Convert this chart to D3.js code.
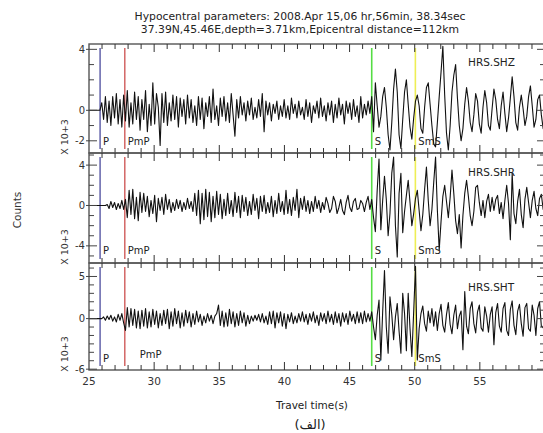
<!DOCTYPE html>
<html>
<head>
<meta charset="utf-8">
<script src="https://cdn.jsdelivr.net/npm/d3@7"></script>
<style>
    body { margin: 0; background: #fff; }
    text { font-family: "DejaVu Sans", sans-serif; }
</style>
</head>
<body>
<div id="chart"></div>
<script>
// seismogram samples (x 10^3 counts), first sample at startTime, one every sampleStep seconds
var startTime = 25;
var sampleStep = 0.14;

var shzCounts = [
    0,0,0,0,0,0,0,0.5,-0.6,0.9,
    -0.8,0.6,-1.0,0.9,-0.5,1.1,-0.9,0.7,-1.1,1.0,
    -0.7,1.3,-1.1,0.5,-0.9,1.2,-0.6,0.9,-1.3,0.7,
    -0.6,1.3,-1.4,0.4,-1.0,1.8,-0.9,1.1,0.2,-2.3,
    1.1,-0.8,1.2,-1.0,0.5,-0.7,1.0,-0.6,0.9,-1.1,
    0.8,-0.4,0.7,-0.9,1.0,-0.5,0.7,-0.8,0.3,-1.0,
    0.9,-0.6,0.8,-1.2,0.5,-0.4,0.9,-0.8,1.4,-0.6,
    0.3,-1.0,0.8,-0.4,0.9,-0.7,0.5,-0.8,1.1,-0.3,
    -1.7,0.7,-0.5,0.9,-0.3,0.5,-0.7,0.6,-0.3,0.8,
    -0.6,0.2,-0.5,0.7,-0.4,1.1,-1.4,0.6,-0.3,0.5,
    -0.7,0.4,-0.2,0.6,-0.6,0.3,-0.4,0.7,-0.5,0.3,
    -0.6,0.8,-0.2,0.4,-0.5,0.6,-0.3,0.2,-0.6,0.7,
    -0.4,0.5,-0.8,0.3,-0.2,0.6,-0.5,0.8,-0.4,0.3,
    -0.7,0.5,-0.3,0.6,-0.8,0.4,-0.5,0.8,-0.3,0.4,
    -0.9,0.6,-0.2,0.5,-0.6,0.7,-0.4,0.3,-0.8,0.9,
    -0.5,0.4,-0.3,0.6,-0.2,0.9,-1.4,1.8,0.3,-1.1,
    -0.4,0.9,1.5,0.2,-1.6,-2.6,-0.8,1.4,2.7,1.2,
    -1.6,-2.5,-0.6,1.2,2.0,0.4,-1.1,-1.9,-0.5,0.6,
    1.0,0.3,-1.2,-1.5,0.2,1.5,1.8,0.4,-1.0,-2.2,
    -2.4,-0.8,0.9,2.5,4.2,1.0,-1.5,-2.6,-1.0,1.2,
    2.3,3.0,0.8,-1.0,-2.0,-1.2,0.4,1.5,0.6,-0.8,
    -1.4,-0.3,1.1,0.6,-0.9,-1.5,0.2,1.3,0.5,-1.0,
    -1.3,0.1,1.4,0.7,-0.6,-1.2,0.3,1.2,-0.2,-1.4,
    -0.5,0.8,2.2,0.9,-0.8,-1.3,0.2,1.0,0.1,-1.0,
    -0.4,0.9,1.6,0.3,-1.1,-0.6,0.7,1.0,-0.3,-1.2,
    -0.2
];

var shrCounts = [
    0,0,0,0,0,0,0,0,0,0,
    0.1,-0.3,0.4,-0.2,0.3,-0.4,0.2,-0.3,0.5,-0.4,
    0.6,-1.2,1.5,-0.9,1.6,-1.3,0.8,-1.5,1.3,-0.7,
    1.2,-0.6,0.9,-1.1,0.5,-0.8,1.0,-1.6,0.7,-0.5,
    0.8,-0.9,1.1,-0.4,0.6,-0.7,0.3,-0.5,0.6,-0.3,
    0.5,-0.6,0.3,-0.4,0.7,-0.3,0.4,-0.6,1.2,-1.0,
    1.5,-1.8,1.2,-1.4,1.6,-1.1,1.3,-1.6,0.9,-1.2,
    1.4,-0.9,1.1,-1.3,0.6,-1.0,1.2,-0.8,0.5,-1.1,
    1.3,-0.7,0.9,-1.2,1.0,-0.6,0.8,-1.0,0.4,-0.9,
    1.1,-0.5,0.7,-1.3,0.9,-0.6,1.0,-0.8,0.3,-0.7,
    0.9,-1.1,0.5,-0.8,1.2,-0.6,0.4,-0.9,1.5,-0.8,
    0.6,-1.0,0.8,-0.5,1.6,-1.2,0.7,-0.4,0.9,-0.6,
    0.5,-0.8,0.4,-0.6,0.9,-0.3,0.5,-0.7,0.3,-0.4,
    0.8,0.2,-0.7,-0.3,0.9,0.4,-0.8,-0.2,0.6,-0.5,
    -0.9,0.3,1.0,-0.2,-0.6,0.4,0.7,-0.4,-0.3,0.5,
    0.2,-0.6,0.3,0.9,-0.4,0.6,-1.2,-2.6,1.5,4.6,
    -2.4,0.5,2.9,0.6,-3.0,-0.8,3.2,4.8,-2.0,-5.1,
    1.2,3.2,-2.7,-0.6,1.0,2.5,0.3,-2.0,-0.8,0.7,
    1.5,-0.5,-2.5,-0.9,1.6,3.8,0.5,-2.0,-0.4,2.3,
    4.8,-0.5,-4.4,-1.6,0.9,2.0,0.4,-1.2,0.8,3.5,
    1.2,-1.5,-2.8,-0.9,-4.2,-1.0,1.2,2.5,0.9,-1.0,
    -2.0,-0.6,1.8,2.0,0.3,-1.0,0.5,-1.2,0.4,1.1,
    -0.6,0.8,-0.5,0.6,1.0,-0.8,0.3,-1.3,0.5,2.0,
    0.2,-3.4,3.2,-0.8,-1.8,0.4,1.6,-0.9,-2.2,0.6,
    1.8,0.3,-1.2,0.5,1.4,-0.3,-1.0,0.7,1.1,-0.4,
    0.2
];

var shtCounts = [
    0,0,0,0,0,0,0,0,0.2,-0.2,
    0.3,-0.1,0.4,-0.3,0.2,-0.4,0.5,-0.2,0.6,-0.5,
    -1.4,1.3,-1.0,1.2,-0.8,1.1,-1.1,0.9,-1.2,1.0,
    -0.9,1.2,-1.1,0.8,-1.0,1.1,-0.7,0.9,-1.1,0.6,
    -0.8,1.0,-0.6,1.1,-1.2,0.8,-0.9,1.2,-0.6,0.9,
    -1.1,0.7,-0.9,1.0,-0.5,0.8,-1.0,0.6,-0.7,0.9,
    -0.4,0.5,-0.8,0.3,-0.5,0.6,-0.3,0.4,-0.6,0.3,
    0.6,1.6,-0.8,0.9,-1.0,0.7,-0.9,1.1,-0.6,0.8,
    -1.0,0.6,-0.8,0.9,-0.5,0.7,-0.9,0.4,-0.6,0.3,
    -0.3,0.4,-0.2,0.5,-0.4,0.6,-0.5,0.3,-0.7,0.8,
    -0.6,0.9,-1.1,0.7,-0.5,0.8,-0.9,0.6,-1.2,0.5,
    -0.4,0.7,-0.6,0.3,-0.5,0.6,-0.3,0.8,-0.4,0.5,
    -0.7,0.6,-0.3,0.8,-0.5,0.4,-0.8,0.7,-0.3,0.6,
    -0.6,0.9,-0.4,0.5,-0.7,0.8,-0.5,0.6,-0.9,0.7,
    -0.4,0.6,-0.7,0.9,-0.3,0.5,-0.6,0.8,-0.5,0.7,
    -0.6,0.9,-0.4,0.6,-0.3,0.8,-1.0,-2.5,0.4,2.2,
    -4.9,0.8,5.7,-1.0,-4.1,2.6,0.5,-2.5,0.2,1.8,
    -1.5,-4.1,3.0,0.6,-3.8,3.0,-1.2,-4.5,0.8,6.2,
    -4.9,-1.2,0.6,1.5,-0.6,-1.5,0.9,-0.5,1.2,-0.9,
    0.8,-1.4,0.6,1.7,-0.8,-1.6,0.5,1.9,-0.7,-1.8,
    0.4,1.6,-1.2,0.3,0.9,-3.7,3.2,-0.9,-1.8,1.2,
    2.0,-0.6,-1.7,0.8,1.6,-1.1,-1.5,1.4,0.3,-1.6,
    0.5,1.4,-3.1,0.7,1.8,-0.9,-1.6,1.2,1.9,-1.4,
    -2.0,1.1,2.1,-0.8,-1.9,0.9,1.7,-0.6,-2.1,1.3,
    1.8,-1.2,-1.5,1.6,0.4,-2.0,1.2,2.0,-0.9,-1.1,
    0.8
];

var stationNames = ["HRS.SHZ", "HRS.SHR", "HRS.SHT"];
var yLimits = [[-2.8, 4.35], [-5.7, 5.2], [-6.1, 6.6]];
var yTickLabels = [[4, 0, -2], [4, 0, -4], [5, 0, -6]];
var xTickLabels = [25, 30, 35, 40, 45, 50, 55];
var timeLimits = [25, 60];

var phaseNames = ["P", "PmP", "S", "SmS"];
var phaseTimes = [25.85, 27.75, 46.7, 50.05];

var titleLines = [
    "Hypocentral parameters: 2008.Apr 15,06 hr,56min, 38.34sec",
    "37.39N,45.46E,depth=3.71km,Epicentral distance=112km"
];

(function() {
    var width = 543, height = 433;
    var left = 89, right = 545;
    var panelTops = [44, 153, 263],
        panelBottoms = [153, 263, 370];

    var traces = [shzCounts, shrCounts, shtCounts];
    var phaseColors = ["#3b3b94", "#c8403f", "#55dd44", "#eeee55"];

    var xPositionScale = d3.scaleLinear()
        .domain(timeLimits)
        .range([left, right]);

    var svg = d3.select("#chart")
        .append("svg")
        .attr("width", width)
        .attr("height", height);

    svg.append("defs").append("clipPath")
        .attr("id", "plot-clip")
        .append("rect")
        .attr("x", left)
        .attr("y", panelTops[0])
        .attr("width", right - left)
        .attr("height", panelBottoms[2] - panelTops[0]);

    // title
    svg.selectAll(".title")
        .data(titleLines)
        .enter().append("text")
        .attr("class", "title")
        .attr("x", 300)
        .attr("y", function(d, i) { return 20 + i * 13; })
        .attr("text-anchor", "middle")
        .attr("font-size", "10.8px")
        .attr("fill", "#222")
        .text(function(d) { return d; });

    var minorTimes = d3.range(26, 60, 1);

    traces.forEach(function(values, p) {
        var top = panelTops[p], bottom = panelBottoms[p];

        var yPositionScale = d3.scaleLinear()
            .domain(yLimits[p])
            .range([bottom, top]);

        var panel = svg.append("g").attr("class", "panel");

        // phase markers
        phaseTimes.forEach(function(t, k) {
            panel.append("line")
                .attr("x1", xPositionScale(t))
                .attr("x2", xPositionScale(t))
                .attr("y1", top + 4)
                .attr("y2", bottom - 4)
                .attr("stroke", phaseColors[k])
                .attr("stroke-width", k >= 2 ? 1.6 : 1.2);
        });

        var line = d3.line()
            .x(function(d, i) { return xPositionScale(startTime + i * sampleStep); })
            .y(function(d) { return yPositionScale(d); });

        panel.append("path")
            .datum(values)
            .attr("d", line)
            .attr("clip-path", "url(#plot-clip)")
            .attr("fill", "none")
            .attr("stroke", "#111")
            .attr("stroke-width", 1.1)
            .attr("stroke-linejoin", "round");

        // frame
        panel.append("rect")
            .attr("x", left)
            .attr("y", top)
            .attr("width", right - left)
            .attr("height", bottom - top)
            .attr("fill", "none")
            .attr("stroke", "#555")
            .attr("stroke-width", 1.4);

        // x ticks, inward, top and bottom
        minorTimes.forEach(function(t) {
            var len = (t % 5 === 0) ? 8 : 5;
            var x = xPositionScale(t);
            panel.append("line")
                .attr("x1", x).attr("x2", x)
                .attr("y1", top).attr("y2", top + len)
                .attr("stroke", "#333");
            panel.append("line")
                .attr("x1", x).attr("x2", x)
                .attr("y1", bottom).attr("y2", bottom - len)
                .attr("stroke", "#333");
        });

        // y ticks every unit, both sides
        var yTicks = d3.range(Math.ceil(yLimits[p][0]), Math.floor(yLimits[p][1]) + 1);
        yTicks.forEach(function(v) {
            var y = yPositionScale(v);
            var major = yTickLabels[p].indexOf(v) >= 0;
            panel.append("line")
                .attr("x1", major ? left - 3 : left)
                .attr("x2", left + (major ? 8 : 5))
                .attr("y1", y).attr("y2", y)
                .attr("stroke", "#444");
            panel.append("line")
                .attr("x1", right)
                .attr("x2", right - (major ? 8 : 5))
                .attr("y1", y).attr("y2", y)
                .attr("stroke", "#444");
        });

        panel.selectAll(".y-label")
            .data(yTickLabels[p])
            .enter().append("text")
            .attr("class", "y-label")
            .attr("x", left - 4)
            .attr("y", function(d) { return yPositionScale(d) + 3.5; })
            .attr("text-anchor", "end")
            .attr("font-size", "10px")
            .attr("fill", "#333")
            .text(function(d) { return d; });

        panel.append("text")
            .attr("transform", "translate(68," + (bottom - 16) + ") rotate(-90)")
            .attr("text-anchor", "middle")
            .attr("font-size", "9.5px")
            .attr("fill", "#333")
            .text("X 10+3");

        // phase labels
        var labelY = [bottom - 8, bottom - 9, bottom - 8][p];
        phaseNames.forEach(function(name, k) {
            var shift = (p === 2 && name === "PmP") ? 15 : 3;
            var yOff = (p === 2 && name === "PmP") ? -4 : 0;
            panel.append("text")
                .attr("x", xPositionScale(phaseTimes[k]) + shift)
                .attr("y", labelY + yOff)
                .attr("font-size", "10px")
                .attr("fill", "#222")
                .text(name);
        });

        panel.append("text")
            .attr("x", 468)
            .attr("y", [66, 176, 291][p])
            .attr("font-size", "10.5px")
            .attr("fill", "#222")
            .text(stationNames[p]);
    });

    // x axis labels
    svg.selectAll(".x-label")
        .data(xTickLabels)
        .enter().append("text")
        .attr("class", "x-label")
        .attr("x", function(d) { return xPositionScale(d); })
        .attr("y", 385)
        .attr("text-anchor", "middle")
        .attr("font-size", "10.5px")
        .attr("fill", "#333")
        .text(function(d) { return d; });

    svg.append("text")
        .attr("x", 312)
        .attr("y", 409)
        .attr("text-anchor", "middle")
        .attr("font-size", "10.5px")
        .attr("fill", "#222")
        .text("Travel time(s)");

    svg.append("text")
        .attr("x", 310)
        .attr("y", 429)
        .attr("text-anchor", "middle")
        .attr("font-size", "13px")
        .attr("fill", "#222")
        .attr("direction", "rtl")
        .text("(الف)");

    svg.append("text")
        .attr("transform", "translate(21,210) rotate(-90)")
        .attr("text-anchor", "middle")
        .attr("font-size", "10.5px")
        .attr("fill", "#333")
        .text("Counts");
})();
</script>
</body>
</html>
